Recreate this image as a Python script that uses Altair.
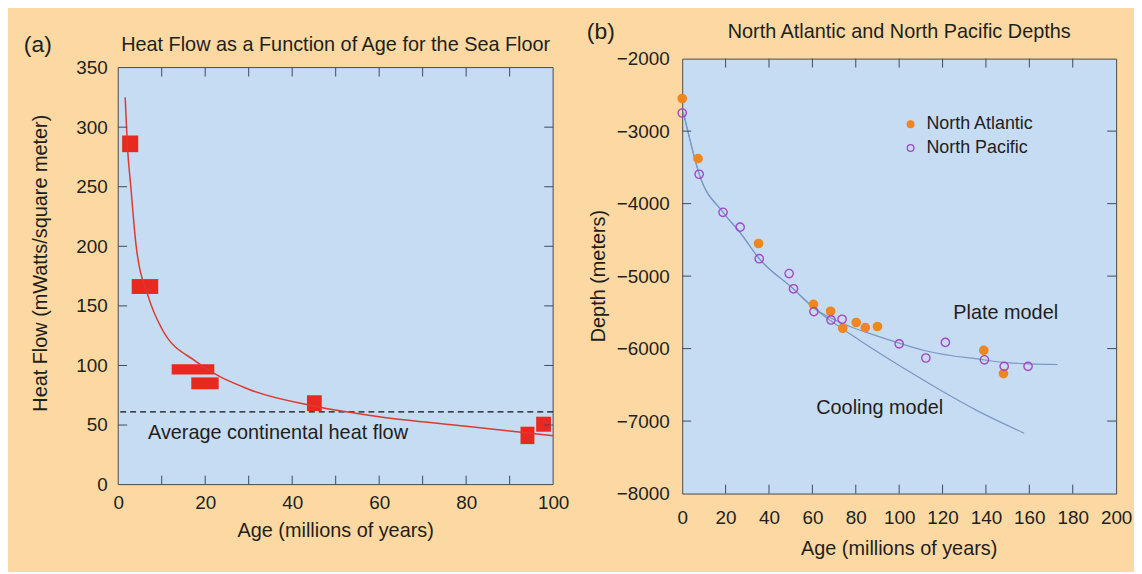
import altair as alt
import pandas as pd

# ---------------- data: panel (a) heat flow ----------------
hf_age_lo = [0.9, 3.1, 12.3, 16.8, 43.4, 92.5, 96.1]
hf_age_hi = [4.6, 9.2, 22.1, 23.1, 46.8, 95.7, 99.5]
hf_lo = [279, 160, 92.5, 80, 61.7, 34, 44.4]
hf_hi = [293, 172.5, 101, 90, 75, 48.6, 57]

curve_age = [1.6, 2.1, 2.9, 4.1, 6.9, 10, 18, 30, 45, 60, 80, 100]
curve_hf = [325, 285, 250, 201, 158, 131, 103, 80, 66, 57, 49, 41]

continental_avg = [61]

a_xrange = [0, 100]
a_yrange = [0, 350]
a_xlabels = [0, 20, 40, 60, 80, 100]
a_xticks = [10, 20, 30, 40, 50, 60, 70, 80, 90]
a_ylabels = [0, 50, 100, 150, 200, 250, 300, 350]
a_yticks = [50, 100, 150, 200, 250, 300]

# ---------------- data: panel (b) depths ----------------
na_age = [0, 7.3, 35.2, 60.5, 68.4, 74, 80.2, 84.4, 90, 139, 148.1]
na_depth = [-2550, -3380, -4550, -5390, -5485, -5720, -5640, -5710, -5695, -6025, -6345]

np_age = [0, 7.8, 18.8, 26.7, 35.5, 49.3, 51.3, 60.7, 68.6, 73.7, 100, 112.3, 121.3, 139.3, 148.4, 159.4]
np_depth = [-2750, -3595, -4120, -4325, -4760, -4965, -5175, -5490, -5605, -5595, -5935, -6130, -5915, -6155, -6245, -6245]

cool_age = [0.5, 2.7, 7.8, 18.8, 26.7, 35.5, 51, 60.7, 79, 105, 135.5, 157.6]
cool_depth = [-2740, -3014, -3590, -4119, -4400, -4760, -5170, -5440, -5830, -6324, -6849, -7168]

plate_age = [0.5, 2.7, 7.8, 18.8, 26.7, 35.5, 51, 60.7, 74, 85, 100, 112, 139, 148, 160, 173]
plate_depth = [-2740, -3014, -3590, -4119, -4400, -4760, -5170, -5440, -5653, -5777, -5925, -6030, -6155, -6190, -6210, -6220]

b_xlabels = [0, 20, 40, 60, 80, 100, 120, 140, 160, 180, 200]
b_xticks = [20, 40, 60, 80, 100, 120, 140, 160, 180]
b_ylabels = [-8000, -7000, -6000, -5000, -4000, -3000, -2000]
b_yticks = [-7000, -6000, -5000, -4000, -3000]

series_names = ["North Atlantic", "North Pacific"]

# ---------------- style ----------------
F = "Liberation Sans"
BG = "#FCD9A2"
BLUE = "#C6DCF2"
RED = "#E8291F"
CURVE = "#DC3A2E"
ORANGE = "#F08620"
PURPLE = "#A644C8"
LINE = "#7A98C6"
TICK = "#3F4A5C"
FRAME = "#4A4A4A"
TXT = "#221E1C"
FS = 19      # tick labels
TS = 20      # titles / annotations

WA, HA = 438, 438   # panel (a) view; frame drawn inside from y=9 to y=429
FA_TOP, FA_BOT = 9, 429
WB, HB = 437, 438

one = pd.DataFrame({"a": [0]})


def axis(vals, pad, fmt=None):
    kw = dict(values=vals, ticks=False, domain=False, grid=False,
              labelFontSize=FS, labelFont=F, labelColor=TXT,
              labelPadding=pad, labelFlush=False, labelOverlap=False,
              title=None)
    if fmt:
        kw["format"] = fmt
    return alt.Axis(**kw)


# panel (a) y-scale extended 9 px (7.5 units) above and below the frame
xa_scale = alt.Scale(domain=[0, 100], nice=False, zero=False)
ya_scale = alt.Scale(domain=[-7.5, 357.5], nice=False, zero=False)
xb_scale = alt.Scale(domain=[0, 200], nice=False, zero=False)
yb_scale = alt.Scale(domain=[-8000, -2000], nice=False, zero=False)

ax_xa = axis(a_xlabels, 0)
ax_ya = axis(a_ylabels, 11)
ax_xb = axis(b_xlabels, 15)
ax_yb = axis(b_ylabels, 13, "d")


def XA(f):
    return alt.X(f"{f}:Q", scale=xa_scale, axis=ax_xa)


def YA(f):
    return alt.Y(f"{f}:Q", scale=ya_scale, axis=ax_ya)


def XB(f):
    return alt.X(f"{f}:Q", scale=xb_scale, axis=ax_xb)


def YB(f):
    return alt.Y(f"{f}:Q", scale=yb_scale, axis=ax_yb)


def label(text, x, y, size=TS, align="center", angle=0):
    props = dict(text=text, font=F, fontSize=size, color=TXT, align=align, baseline="middle")
    if angle:
        props["angle"] = angle
    return alt.Chart(one).mark_text(**props).encode(x=alt.value(x), y=alt.value(y))


def bounds(x1, x2, y1, y2):
    return alt.Chart(one).mark_rect(opacity=0).encode(
        x=alt.value(x1), x2=alt.value(x2), y=alt.value(y1), y2=alt.value(y2))


# ---------------- panel (a) ----------------
frame_df = pd.DataFrame({"x0": [a_xrange[0]], "x1": [a_xrange[1]], "y0": [a_yrange[0]], "y1": [a_yrange[1]]})
rects_df = pd.DataFrame({"lo": hf_age_lo, "hi": hf_age_hi, "qlo": hf_lo, "qhi": hf_hi})
curve_df = pd.DataFrame({"age": curve_age, "hf": curve_hf})
avg_df = pd.DataFrame({"v": continental_avg})

a_layers = [
    bounds(-110, WA + 20, -40, HA + 50),
    alt.Chart(frame_df).mark_rect(fill=BLUE, stroke=FRAME, strokeWidth=1).encode(
        x=XA("x0"), x2="x1", y=YA("y0"), y2="y1"),
    alt.Chart(avg_df).mark_rule(color="#111111", strokeWidth=1.3, strokeDash=[6, 4]).encode(y=YA("v")),
    alt.Chart(rects_df).mark_rect(color=RED).encode(x=XA("lo"), x2="hi", y=YA("qlo"), y2="qhi"),
    alt.Chart(curve_df).mark_line(color=CURVE, strokeWidth=1.5, interpolate="monotone").encode(
        x=XA("age"), y=YA("hf")),
    alt.Chart(pd.DataFrame({"v": a_xticks})).mark_rule(color=TICK).encode(
        x=XA("v"), y=alt.value(FA_TOP), y2=alt.value(FA_TOP + 9)),
    alt.Chart(pd.DataFrame({"v": a_xticks})).mark_rule(color=TICK).encode(
        x=XA("v"), y=alt.value(FA_BOT - 9), y2=alt.value(FA_BOT)),
    alt.Chart(pd.DataFrame({"v": a_yticks})).mark_rule(color=TICK).encode(
        y=YA("v"), x=alt.value(0), x2=alt.value(9)),
    alt.Chart(pd.DataFrame({"v": a_yticks})).mark_rule(color=TICK).encode(
        y=YA("v"), x=alt.value(WA - 9), x2=alt.value(WA)),
    label("Average continental heat flow", 30, 377, align="left"),
    label("Heat Flow as a Function of Age for the Sea Floor", WA / 2, -14),
    label("(a)", -81, -14, size=23),
    label("Age (millions of years)", WA / 2, 476),
    label("Heat Flow (mWatts/square meter)", -78, 206, angle=270),
]
panel_a = alt.layer(*a_layers).properties(
    width=WA, height=HA,
    view=alt.ViewBackground(fill="transparent", stroke="transparent"))

# ---------------- panel (b) ----------------
pts_df = pd.concat([
    pd.DataFrame({"age": na_age, "depth": na_depth, "ocean": series_names[0]}),
    pd.DataFrame({"age": np_age, "depth": np_depth, "ocean": series_names[1]}),
])
cool_df = pd.DataFrame({"age": cool_age, "depth": cool_depth})
plate_df = pd.DataFrame({"age": plate_age, "depth": plate_depth})

leg = alt.Legend(title=None, orient="none", legendX=789, legendY=57, padding=0,
                 labelFont=F, labelFontSize=18, labelColor=TXT, labelOffset=7,
                 symbolSize=45, symbolStrokeWidth=1.3, rowPadding=6, symbolType="circle")

b_layers = [
    bounds(-108, WB + 17, -48, HB + 76),
    alt.Chart(cool_df).mark_line(color=LINE, strokeWidth=1.2, interpolate="monotone").encode(
        x=XB("age"), y=YB("depth")),
    alt.Chart(plate_df).mark_line(color=LINE, strokeWidth=1.2, interpolate="monotone").encode(
        x=XB("age"), y=YB("depth")),
    alt.Chart(pts_df).mark_circle(size=70, strokeWidth=1.4, opacity=1).encode(
        x=XB("age"), y=YB("depth"),
        fill=alt.Fill("ocean:N", scale=alt.Scale(domain=series_names, range=[ORANGE, "transparent"]), legend=leg),
        stroke=alt.Stroke("ocean:N", scale=alt.Scale(domain=series_names, range=[ORANGE, PURPLE]), legend=leg),
    ),
    alt.Chart(pd.DataFrame({"v": b_xticks})).mark_rule(color=TICK).encode(
        x=XB("v"), y=alt.value(0), y2=alt.value(9)),
    alt.Chart(pd.DataFrame({"v": b_xticks})).mark_rule(color=TICK).encode(
        x=XB("v"), y=alt.value(HB - 9), y2=alt.value(HB)),
    alt.Chart(pd.DataFrame({"v": b_yticks})).mark_rule(color=TICK).encode(
        y=YB("v"), x=alt.value(0), x2=alt.value(9)),
    alt.Chart(pd.DataFrame({"v": b_yticks})).mark_rule(color=TICK).encode(
        y=YB("v"), x=alt.value(WB - 9), x2=alt.value(WB)),
    label("Plate model", 273, 256, align="left"),
    label("Cooling model", 135, 352, align="left"),
    label("North Atlantic and North Pacific Depths", WB / 2, -27),
    label("(b)", -82, -27, size=23),
    label("Age (millions of years)", WB / 2, 494),
    label("Depth (meters)", -84, HB / 2, angle=270),
]
panel_b = alt.layer(*b_layers).properties(
    width=WB, height=HB,
    view=alt.ViewBackground(fill=BLUE, stroke=FRAME, strokeWidth=1))

chart = alt.hconcat(panel_a, panel_b, spacing=0).properties(
    padding=0, background=BG
)

chart.save("out.html", embed_options={"renderer": "svg", "actions": False})
